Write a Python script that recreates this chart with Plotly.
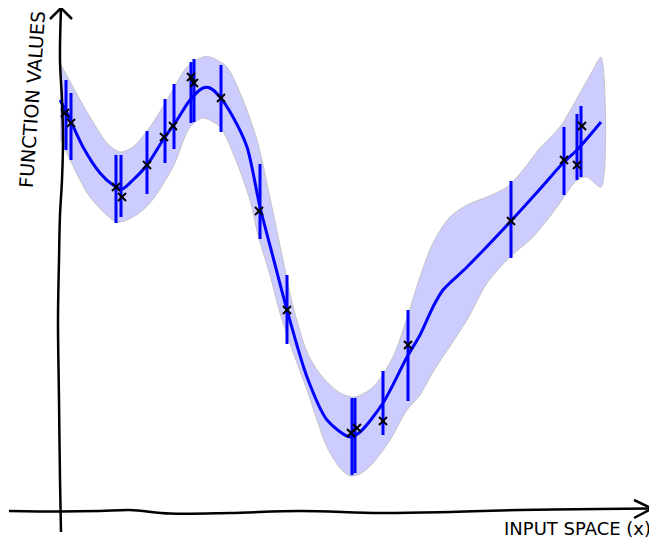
import plotly.graph_objects as go

# Observations (x marks)
obs_x = [0.10, 0.22, 1.12, 1.24, 1.74, 2.08, 2.26, 2.62, 2.68, 3.22, 3.98, 4.54, 5.82, 5.94, 6.46, 6.96, 9.02, 10.08, 10.34, 10.44]
obs_y = [7.96, 7.76, 6.48, 6.28, 6.92, 7.48, 7.70, 8.68, 8.56, 8.26, 6.00, 4.02, 1.56, 1.66, 1.80, 3.32, 5.80, 7.02, 6.92, 7.70]

# Error bars (noise)
bar_x = [0.12, 0.22, 1.12, 1.22, 1.74, 2.10, 2.28, 2.62, 2.68, 3.22, 4.00, 4.54, 5.84, 5.90, 6.46, 6.96, 9.02, 10.08, 10.34, 10.42]
bar_hi = [8.62, 8.36, 7.12, 7.12, 7.60, 8.24, 8.54, 8.98, 9.04, 8.92, 6.94, 4.72, 2.26, 2.26, 2.80, 4.02, 6.60, 7.68, 7.94, 8.10]
bar_lo = [7.22, 7.02, 5.76, 5.88, 6.34, 6.96, 7.24, 7.76, 7.78, 7.58, 5.44, 3.34, 0.72, 0.76, 1.52, 2.20, 5.06, 6.32, 6.62, 6.68]

# Posterior mean
mean_x = [0.00, 0.14, 0.46, 0.80, 1.06, 1.24, 1.46, 1.74, 2.06, 2.34, 2.60, 2.86, 3.00, 3.20, 3.46, 3.74, 4.00, 4.26, 4.54, 4.94, 5.34, 5.80, 6.00, 6.46, 6.94, 7.20, 7.46, 7.66, 8.14, 9.00, 9.60, 10.06, 10.34, 10.82]
mean_y = [8.22, 7.96, 7.28, 6.76, 6.52, 6.44, 6.62, 6.92, 7.42, 7.82, 8.22, 8.46, 8.46, 8.28, 7.88, 7.28, 6.08, 5.08, 4.02, 2.68, 1.82, 1.48, 1.58, 2.16, 3.08, 3.52, 4.08, 4.42, 4.88, 5.78, 6.44, 6.96, 7.22, 7.78]

# Confidence band
up_x = [0.00, 0.26, 0.60, 0.94, 1.20, 1.46, 1.80, 2.14, 2.54, 2.86, 3.00, 3.14, 3.34, 3.66, 3.94, 4.20, 4.46, 4.66, 4.94, 5.20, 5.60, 5.90, 6.26, 6.66, 6.94, 7.20, 7.46, 7.80, 8.14, 8.54, 8.94, 9.26, 9.60, 10.00, 10.40, 10.66, 10.82]
up_y = [8.96, 8.48, 7.88, 7.36, 7.18, 7.28, 7.68, 8.22, 8.88, 9.08, 9.08, 9.02, 8.88, 8.22, 7.42, 6.26, 5.02, 4.10, 3.18, 2.74, 2.36, 2.28, 2.48, 3.08, 3.86, 4.68, 5.36, 5.88, 6.12, 6.28, 6.48, 6.82, 7.26, 7.68, 8.36, 8.82, 9.08]
lo_x = [0.00, 0.30, 0.60, 1.14, 1.46, 1.80, 2.26, 2.60, 2.86, 3.20, 3.46, 3.80, 3.96, 4.20, 4.40, 4.66, 4.94, 5.34, 5.60, 5.80, 6.00, 6.26, 6.60, 6.94, 7.20, 7.46, 8.14, 8.54, 9.00, 9.46, 9.94, 10.34, 10.54, 10.82]
lo_y = [7.46, 6.82, 6.28, 5.78, 5.88, 6.16, 6.88, 7.68, 7.86, 7.68, 7.16, 6.22, 5.52, 4.72, 3.96, 3.18, 2.42, 1.28, 0.86, 0.70, 0.74, 0.96, 1.42, 2.02, 2.32, 2.78, 3.82, 4.56, 5.08, 5.48, 6.08, 6.62, 6.68, 6.48]

# Hand-drawn axes
yax_x = [0.02, 0.00, -0.02, -0.04, -0.02, 0.00, 0.04, 0.06, 0.04, 0.00, 0.02]
yax_y = [-0.42, 0.62, 2.22, 3.82, 5.02, 5.92, 6.62, 7.42, 8.22, 9.02, 10.06]
yarrow_x = [-0.20, 0.02, 0.24]
yarrow_y = [9.84, 10.06, 9.84]
xax_x = [-1.02, 0.00, 0.80, 1.40, 2.20, 3.40, 4.80, 6.40, 7.80, 9.20, 10.80, 11.84]
xax_y = [0.00, -0.01, 0.00, 0.02, -0.05, -0.04, 0.00, -0.04, -0.02, 0.02, 0.04, 0.05]
xarrow_x = [11.48, 11.84, 11.48]
xarrow_y = [0.22, 0.05, -0.14]

x_label = "INPUT SPACE (x)"
y_label = "FUNCTION VALUES"

fig = go.Figure()

# band
fig.add_trace(go.Scatter(
    x=up_x + lo_x[::-1], y=up_y + lo_y[::-1],
    fill="toself", fillcolor="#ccccff",
    line=dict(color="#c4c4c4", width=1, shape="spline", smoothing=0.8),
    mode="lines", hoverinfo="skip"))

# mean
fig.add_trace(go.Scatter(
    x=mean_x, y=mean_y, mode="lines",
    line=dict(color="#0000ff", width=3, shape="spline", smoothing=0.8)))

# error bars
ex, ey = [], []
for bx, lo, hi in zip(bar_x, bar_lo, bar_hi):
    ex += [bx, bx, None]
    ey += [lo, hi, None]
fig.add_trace(go.Scatter(x=ex, y=ey, mode="lines",
                         line=dict(color="#0000ff", width=3)))

# observations
fig.add_trace(go.Scatter(
    x=obs_x, y=obs_y, mode="markers",
    marker=dict(symbol="x-thin", size=8, line=dict(color="black", width=2))))

# axes
for ax_x, ax_y in [(yax_x, yax_y), (xax_x, xax_y)]:
    fig.add_trace(go.Scatter(x=ax_x, y=ax_y, mode="lines",
                             line=dict(color="black", width=2.5, shape="spline")))
for ax_x, ax_y in [(yarrow_x, yarrow_y), (xarrow_x, xarrow_y)]:
    fig.add_trace(go.Scatter(x=ax_x, y=ax_y, mode="lines",
                             line=dict(color="black", width=2.5)))

fig.add_annotation(x=11.86, y=-0.60, xanchor="right", yanchor="bottom",
                   text=x_label, showarrow=False,
                   font=dict(family="DejaVu Sans", size=18, color="black"))
fig.add_annotation(x=-0.56, y=8.22, text=y_label, showarrow=False, textangle=-86,
                   font=dict(family="DejaVu Sans", size=19, color="black"))

# page body has an 8px margin, so the figure is 8px smaller on each axis
fig.update_layout(
    width=649, height=534,
    margin=dict(l=0, r=0, t=0, b=0),
    showlegend=False,
    plot_bgcolor="white", paper_bgcolor="white",
    xaxis=dict(range=[-1.04, 11.94], visible=False, fixedrange=True),
    yaxis=dict(range=[-0.62, 10.06], visible=False, fixedrange=True),
)

fig.write_html("out.html")
